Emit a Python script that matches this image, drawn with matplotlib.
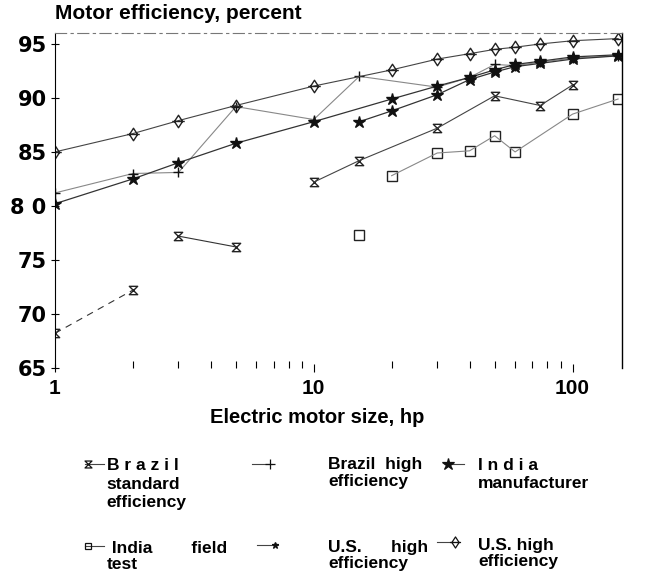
import matplotlib
matplotlib.use("Agg")
import matplotlib.pyplot as plt
from matplotlib.path import Path
from matplotlib.lines import Line2D
import numpy as np

plt.rcParams['font.family'] = ['Liberation Sans', 'DejaVu Sans']

# data (hp, percent)
bs_hp = [1, 2, 3, 5, 10, 15, 30, 50, 75, 100]
bs_eff = [68.2, 72.2, 77.2, 76.2, 82.2, 84.2, 87.2, 90.2, 89.3, 91.2]

bh_hp = [1, 2, 3, 5, 10, 15, 30, 40, 50, 60, 75, 100, 150]
bh_eff = [81.2, 83.0, 83.1, 89.2, 88.0, 92.0, 91.0, 91.9, 93.1, 93.0, 93.3, 93.7, 93.9]

im_hp = [1, 2, 3, 5, 10, 20, 30, 40, 50, 60, 75, 100, 150]
im_eff = [80.2, 82.5, 84.0, 85.8, 87.8, 89.9, 91.1, 91.9, 92.6, 93.1, 93.4, 93.8, 94.0]

if_hp = [15, 20, 30, 40, 50, 60, 100, 150]
if_eff = [77.3, 82.8, 84.9, 85.1, 86.5, 85.0, 88.5, 89.9]

us1_hp = [15, 20, 30, 40, 50, 60, 75, 100, 150]
us1_eff = [87.8, 88.8, 90.3, 91.7, 92.4, 92.9, 93.2, 93.6, 93.9]

us2_hp = [1, 2, 3, 5, 10, 20, 30, 40, 50, 60, 75, 100, 150]
us2_eff = [85.0, 86.7, 87.9, 89.3, 91.1, 92.6, 93.6, 94.1, 94.5, 94.7, 95.0, 95.3, 95.5]

yticks = [65, 70, 75, 80, 85, 90, 95]
ylabels = ['65', '70', '75', '8 0', '85', '90', '95']

# marker shapes
hourglass = Path([(-1, 1), (1, 1), (-1, -1), (1, -1), (-1, 1)],
                 [Path.MOVETO, Path.LINETO, Path.LINETO, Path.LINETO, Path.CLOSEPOLY])
diamond_cross = Path([(0, 1), (0.65, 0), (0, -1), (-0.65, 0), (0, 1), (-1, 0), (1, 0)],
                     [Path.MOVETO, Path.LINETO, Path.LINETO, Path.LINETO, Path.CLOSEPOLY,
                      Path.MOVETO, Path.LINETO])

fig = plt.figure(figsize=(6.47, 5.82), dpi=100)
ax = fig.add_axes([0.085, 0.368, 0.876, 0.575])
ax.set_xscale('log')

# Brazil standard efficiency (line broken in the scan)
ax.plot(bs_hp, bs_eff, ls='none', marker=hourglass, ms=6, mfc='none', mec='#222', mew=1.0)
ax.plot(bs_hp[0:2], bs_eff[0:2], ls=(0, (6, 5)), color='#333', lw=0.8)
ax.plot(bs_hp[2:4], bs_eff[2:4], color='#333', lw=0.8)
ax.plot(bs_hp[4:], bs_eff[4:], color='#444', lw=0.8)

# Brazil high efficiency
ax.plot(bh_hp, bh_eff, color='#888', lw=0.8, marker='+', ms=7, mec='#111', mew=1.0)

# India manufacturer
ax.plot(im_hp, im_eff, color='#333', lw=0.9, marker='*', ms=9, mfc='#111', mec='#111')

# India field test
ax.plot(if_hp, if_eff, ls='none', marker='s', ms=6.5, mfc='none', mec='#222', mew=1.0)
ax.plot(if_hp[1:], if_eff[1:], color='#888', lw=0.8)

# U.S. high efficiency (small star)
ax.plot(us1_hp, us1_eff, color='#333', lw=0.9, marker='*', ms=9, mfc='#111', mec='#111')

# U.S. high efficiency (diamond)
ax.plot(us2_hp, us2_eff, color='#444', lw=0.8, marker=diamond_cross, ms=9, mfc='none',
        mec='#222', mew=1.0)

ax.set_xlim(1, 155)
ax.set_ylim(65, 96)
ax.set_yticks(yticks)
ax.set_yticklabels(ylabels, fontsize=15, fontweight='bold', family='DejaVu Sans')
ax.set_xticks([1, 10, 100])
ax.set_xticklabels(['1', '10', '100'], fontsize=15, fontweight='bold',
                   family=['Liberation Sans Narrow', 'Liberation Sans'])
ax.tick_params(axis='y', direction='inout', length=6, width=0.8, pad=3)
ax.tick_params(axis='x', which='major', direction='inout', length=6, width=0.8, pad=5)
ax.tick_params(axis='x', which='minor', direction='in', length=5, width=0.8)
ax.spines['bottom'].set_visible(False)
ax.spines['top'].set_linestyle((0, (10, 4, 2, 4)))
ax.spines['top'].set_color('#777')
ax.spines['top'].set_linewidth(0.8)
ax.spines['left'].set_linewidth(0.8)
ax.spines['right'].set_linewidth(1.0)

fig.text(0.085, 0.96, 'Motor efficiency, percent', fontsize=15, fontweight='bold',
         ha='left', va='bottom')
fig.text(0.49, 0.283, 'Electric motor size, hp', fontsize=14.5, fontweight='bold',
         ha='center', va='center')

# legend drawn by hand, laid out like the original
def key(x, y, marker, ms, fill, line_left=False):
    if line_left:
        xs = [x - 0.028, x + 0.004]
    else:
        xs = [x - 0.004, x + 0.025]
    fig.add_artist(Line2D(xs, [y, y], color='#444', lw=0.8, transform=fig.transFigure))
    fig.add_artist(Line2D([x], [y], marker=marker, ms=ms, mfc=fill, mec='#111', mew=0.9,
                          ls='none', transform=fig.transFigure))

key(0.136, 0.203, hourglass, 5, 'none')
key(0.417, 0.203, '+', 7, 'none', line_left=True)
key(0.692, 0.203, '*', 9, '#111')
key(0.136, 0.062, 's', 5, 'none')
key(0.425, 0.064, '*', 5, '#111', line_left=True)
key(0.703, 0.068, diamond_cross, 8, 'none', line_left=True)

lt = dict(fontsize=12.5, fontweight='bold', ha='left', va='top')
fig.text(0.165, 0.213, 'B r a z i l\nstandard\nefficiency', linespacing=1.3, **lt)
fig.text(0.507, 0.215, 'Brazil  high\nefficiency', linespacing=1.2, **lt)
fig.text(0.739, 0.213, 'I n d i a\nmanufacturer', linespacing=1.25, **lt)
fig.text(0.165, 0.071, ' India        field\ntest', linespacing=1.1, **lt)
fig.text(0.507, 0.073, 'U.S.      high\nefficiency', linespacing=1.1, **lt)
fig.text(0.739, 0.076, 'U.S. high\nefficiency', linespacing=1.1, **lt)

fig.savefig('out.png', dpi=100)
